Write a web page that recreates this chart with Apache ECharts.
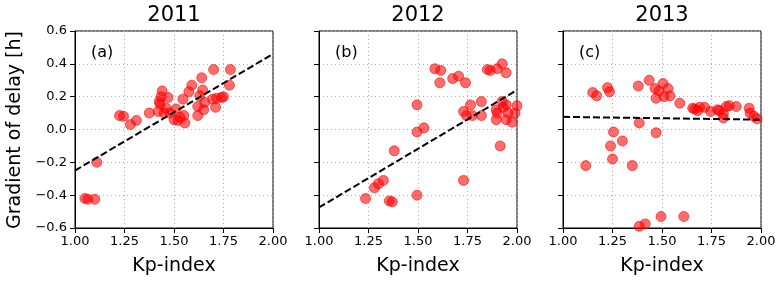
<!DOCTYPE html>
<html>
<head>
<meta charset="utf-8">
<script src="https://cdn.jsdelivr.net/npm/echarts@6/dist/echarts.min.js"></script>
<style>
html,body{margin:0;padding:0;background:#fff;}
#chart{width:783px;height:283px;}
</style>
</head>
<body>
<div id="chart"></div>
<script>
// ---- data ----
const years = ['2011', '2012', '2013'];
const panelLabels = ['(a)', '(b)', '(c)'];
const xTicks = [1.0, 1.25, 1.5, 1.75, 2.0];
const yTicks = [-0.6, -0.4, -0.2, 0.0, 0.2, 0.4, 0.6];

const kp2011 = [1.05,1.065,1.10,1.11,1.225,1.245,1.28,1.31,1.375,1.42,1.44,1.435,1.425,1.43,1.47,1.46,1.45,1.48,1.51,1.50,1.53,1.55,1.555,1.52,1.545,1.575,1.59,1.64,1.645,1.63,1.62,1.62,1.655,1.65,1.70,1.695,1.71,1.715,1.74,1.75,1.78,1.785];
const grad2011 = [-0.42,-0.425,-0.425,-0.20,0.085,0.08,0.03,0.055,0.10,0.11,0.235,0.20,0.17,0.155,0.195,0.13,0.10,0.10,0.125,0.06,0.075,0.085,0.04,0.055,0.185,0.23,0.27,0.315,0.24,0.205,0.14,0.085,0.165,0.12,0.365,0.185,0.135,0.19,0.195,0.20,0.27,0.365];

const kp2012 = [1.235,1.28,1.30,1.325,1.355,1.37,1.38,1.495,1.495,1.495,1.53,1.585,1.615,1.61,1.675,1.705,1.74,1.73,1.745,1.73,1.765,1.775,1.82,1.82,1.85,1.865,1.90,1.925,1.945,1.895,1.895,1.915,1.925,1.945,1.93,1.955,1.945,1.975,1.99,2.0,1.90];
const grad2012 = [-0.42,-0.355,-0.33,-0.31,-0.435,-0.44,-0.13,-0.40,-0.015,0.15,0.01,0.37,0.36,0.285,0.31,0.325,0.285,0.11,0.085,-0.31,0.15,0.085,0.17,0.085,0.365,0.36,0.37,0.40,0.345,0.12,0.06,-0.10,0.17,0.15,0.135,0.10,0.06,0.045,0.10,0.145,0.10];

const kp2013 = [1.115,1.15,1.17,1.225,1.235,1.255,1.24,1.25,1.30,1.35,1.38,1.385,1.385,1.415,1.435,1.465,1.47,1.47,1.485,1.505,1.51,1.53,1.54,1.495,1.61,1.59,1.655,1.665,1.68,1.69,1.715,1.745,1.78,1.79,1.81,1.81,1.825,1.84,1.875,1.94,1.945,1.965,1.98];
const grad2013 = [-0.22,0.225,0.205,0.255,0.23,-0.015,-0.10,-0.18,-0.07,-0.22,0.265,0.04,-0.59,-0.575,0.30,0.25,0.19,-0.02,0.235,0.28,0.20,0.25,0.205,-0.53,-0.53,0.16,0.13,0.125,0.115,0.135,0.135,0.11,0.12,0.115,0.07,0.095,0.14,0.145,0.14,0.13,0.10,0.08,0.065];

const fitKp = [1.0, 2.0];
const fit2011 = [-0.25, 0.46];
const fit2012 = [-0.475, 0.24];
const fit2013 = [0.077, 0.06];

const xLabel = 'Kp-index';
const yLabel = 'Gradient of delay [h]';

// ---- build ----
const kps = [kp2011, kp2012, kp2013];
const grads = [grad2011, grad2012, grad2013];
const fits = [fit2011, fit2012, fit2013];
const lefts = [75, 319, 563];
const W = 198, H = 197, TOP = 31;
const FONT = 'DejaVu Sans';

const grid = [], xAxis = [], yAxis = [], series = [], graphic = [];
for (let i = 0; i < 3; i++) {
  grid.push({left: lefts[i], top: TOP, width: W, height: H, show: true,
    borderColor: '#000', borderWidth: 1, backgroundColor: 'transparent', containLabel: false});
  xAxis.push({type: 'value', gridIndex: i, min: xTicks[0], max: xTicks[xTicks.length-1], interval: 0.25,
    axisLine: {show: true, onZero: false, lineStyle: {color: '#000', width: 1}},
    axisTick: {show: true, inside: false, length: 5, lineStyle: {color: '#000'}},
    axisLabel: {show: true, margin: 7, color: '#000', fontFamily: FONT, fontSize: 13,
      formatter: v => v.toFixed(2)},
    splitLine: {show: true, lineStyle: {color: '#b0b0b0', type: [1, 3], width: 1}}
  });
  yAxis.push({type: 'value', gridIndex: i, min: yTicks[0], max: yTicks[yTicks.length-1], interval: 0.2,
    axisLine: {show: true, onZero: false, lineStyle: {color: '#000', width: 1}},
    axisTick: {show: true, inside: false, length: 5, lineStyle: {color: '#000'}},
    axisLabel: {show: i === 0, margin: 8, color: '#000', fontFamily: FONT, fontSize: 13,
      formatter: v => { const s = (Math.abs(v) < 1e-9 ? 0 : v).toFixed(1); return s.replace('-', '\u2212'); }},
    splitLine: {show: true, lineStyle: {color: '#b0b0b0', type: [1, 3], width: 1}}
  });
  series.push({type: 'scatter', xAxisIndex: i, yAxisIndex: i, symbol: 'circle', symbolSize: 10,
    itemStyle: {color: 'rgba(255,0,0,0.72)', borderColor: 'rgba(255,0,0,0.72)', borderWidth: 1}, clip: true, silent: true,
    data: kps[i].map((x, j) => [x, grads[i][j]])});
  series.push({type: 'line', xAxisIndex: i, yAxisIndex: i, symbol: 'none', clip: true, silent: true,
    lineStyle: {color: '#000', width: 2, type: [7, 3]}, z: 3,
    data: fitKp.map((x, j) => [x, fits[i][j]])});
  graphic.push({type: 'text', x: lefts[i] + W/2, y: 16,
    style: {text: years[i], fontFamily: FONT, fontSize: 21, fill: '#000', textAlign: 'center', textVerticalAlign: 'middle'}});
  graphic.push({type: 'text', x: lefts[i] + W/2, y: 266,
    style: {text: xLabel, fontFamily: FONT, fontSize: 19, fill: '#000', textAlign: 'center', textVerticalAlign: 'middle'}});
  graphic.push({type: 'text', x: lefts[i] + 16, y: 53,
    style: {text: panelLabels[i], fontFamily: FONT, fontSize: 16, fill: '#000', textAlign: 'left', textVerticalAlign: 'middle'}});
}
graphic.push({type: 'text', x: 15, y: 130, rotation: Math.PI/2,
  style: {text: yLabel, fontFamily: FONT, fontSize: 19, fill: '#000', textAlign: 'center', textVerticalAlign: 'middle'}});

const chart = echarts.init(document.getElementById('chart'), null, {renderer: 'canvas'});
chart.setOption({animation: false, backgroundColor: '#fff', grid, xAxis, yAxis, series, graphic});
</script>
</body>
</html>
